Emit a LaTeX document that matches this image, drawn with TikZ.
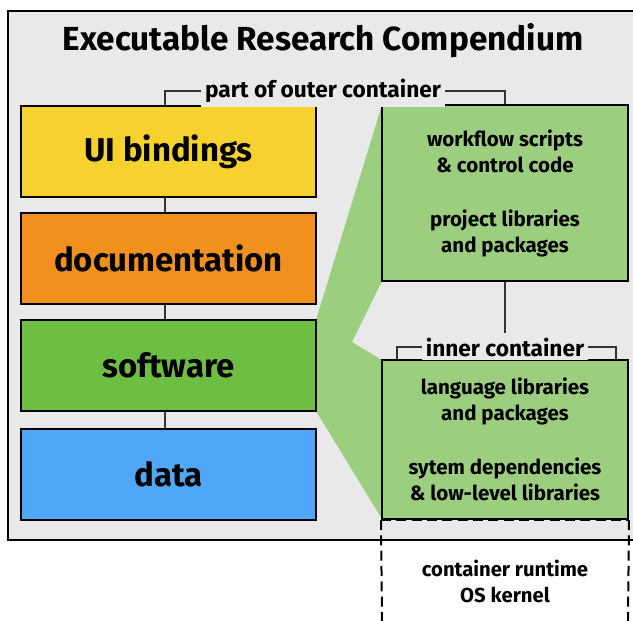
\documentclass[tikz,border=0pt]{standalone}
\usepackage{fontspec}
\setmainfont{Fira Sans}
\usetikzlibrary{calc}

\definecolor{bggray}{HTML}{E8E9E8}
\definecolor{uiyellow}{HTML}{F6D22F}
\definecolor{docorange}{HTML}{F2901E}
\definecolor{swgreen}{HTML}{6EBE44}
\definecolor{datablue}{HTML}{50A7F8}
\definecolor{lightgreen}{HTML}{9CCE7F}

\begin{document}
\begin{tikzpicture}[x=0.75pt,y=-0.75pt,
  layer/.style={draw, line width=1.5pt, minimum width=221.25pt, minimum height=68.25pt,
    inner sep=0pt, font=\fontsize{24.7}{30}\selectfont\bfseries},
  inbox/.style={draw, line width=1.5pt, minimum width=184.5pt, inner sep=0pt,
    align=center, font=\fontsize{15.4}{19.5}\selectfont\bfseries},
  label/.style={fill=bggray, inner sep=3pt, font=\fontsize{17}{20}\selectfont\bfseries},
  link/.style={line width=1.5pt, draw=black!80}]

  \useasboundingbox (0,0) rectangle (633,621);
  \clip (0,0) rectangle (633,621);

  % Outer container
  \draw[fill=bggray, line width=1.2pt] (8,11) rectangle (660,540);
  \node[font=\fontsize{25}{29}\selectfont\bfseries] (title) at (323,41) {Executable Research Compendium};

  % Wedge
  \fill[lightgreen] (316,320) -- (382,105) -- (382,281) -- (352,342) -- (382,360)
    -- (382,519) -- (316,411) -- cycle;

  % Nodes
  \node[layer, fill=uiyellow] (ui) at (168.5,151.5) {UI bindings};
  \node[layer, fill=docorange] (doc) at (168.5,258.5) {documentation};
  \node[layer, fill=swgreen] (sw) at (168.5,365.5) {software};
  \node[layer, fill=datablue] (data) at (168.5,474.5) {data};

  \node[inbox, fill=lightgreen, minimum height=132pt] (wf) at (505,193)
    {workflow scripts\\\& control code\\[21pt]project libraries\\and packages};
  \node[inbox, fill=lightgreen, minimum height=119.25pt] (lang) at (505,439.5)
    {language libraries\\and packages\\[21pt]sytem dependencies\\\& low-level libraries};

  \node[label] (outer) at (323,91) {part of outer container};
  \node[label] (inner) at (505,347) {inner container};
  \node[align=center, font=\fontsize{15.2}{19.5}\selectfont\bfseries] (runtime) at (505,581)
    {container runtime\\OS kernel};

  \coordinate (il) at ($(lang.north west)+(16,0)$);
  \coordinate (ir) at ($(lang.north east)+(-13,0)$);
  \coordinate (rl) at (382,621);
  \coordinate (rr) at (628,621);

  % Edges
  \draw[link] ([xshift=-2.6pt]ui.south) -- ([xshift=-2.6pt]doc.north);
  \draw[link] ([xshift=-2.6pt]doc.south) -- ([xshift=-2.6pt]sw.north);
  \draw[link] ([xshift=-2.6pt]sw.south) -- ([xshift=-2.6pt]data.north);
  \draw[link] (wf) -- (inner);

  \draw[link] ([xshift=-2.6pt]ui.north) |- (outer.west);
  \draw[link] (outer.east) -| (wf.north);
  \draw[link] (il) |- (inner.west);
  \draw[link] (inner.east) -| (ir);

  % Runtime
  \draw[line width=1.5pt, dash pattern=on 7.5pt off 4pt] (lang.south west) -- (rl);
  \draw[line width=1.5pt, dash pattern=on 7.5pt off 4pt] (lang.south east) -- (rr);
  \draw[line width=1.5pt, dash pattern=on 7.5pt off 4pt] (lang.south west) -- (lang.south east);
\end{tikzpicture}
\end{document}
